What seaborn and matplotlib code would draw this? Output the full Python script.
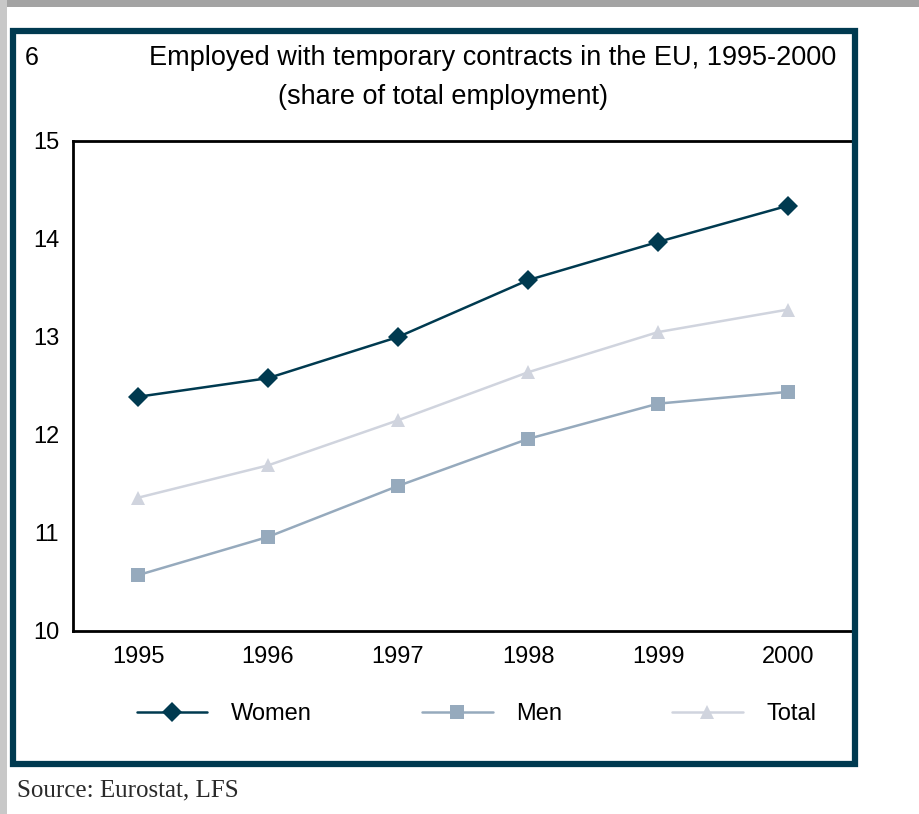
import numpy as np
import pandas as pd
import matplotlib
matplotlib.use("Agg")
import matplotlib.pyplot as plt
from matplotlib.patches import Rectangle
from matplotlib.ticker import FixedLocator, NullFormatter
import seaborn as sns

years = [1995, 1996, 1997, 1998, 1999, 2000]
women = [12.39, 12.58, 13.00, 13.58, 13.97, 14.34]
men = [10.57, 10.96, 11.48, 11.96, 12.32, 12.44]
total = [11.36, 11.69, 12.15, 12.64, 13.05, 13.28]
series_names = ["Women", "Men", "Total"]
y_ticks = [10, 11, 12, 13, 14, 15]

title_num = "6"
title_main = "Employed with temporary contracts in the EU, 1995-2000"
title_sub = "(share of total employment)"
source_text = "Source: Eurostat, LFS"

df = pd.DataFrame({
    "year": years * 3,
    "value": women + men + total,
    "series": [series_names[0]] * 6 + [series_names[1]] * 6 + [series_names[2]] * 6,
})

sns.set_theme(style="white")
plt.rcParams["font.family"] = ["Liberation Sans Narrow", "Liberation Sans", "DejaVu Sans"]

fig = plt.figure(figsize=(9.2, 8.14), dpi=100)
fig.patch.set_facecolor("white")

# background decorations (gray window strips)
fig.add_artist(Rectangle((0, 1 - 7 / 814), 1, 7 / 814, transform=fig.transFigure,
                         facecolor="#a3a3a3", edgecolor="none", zorder=0))
fig.add_artist(Rectangle((0, 0), 7 / 920, 1, transform=fig.transFigure,
                         facecolor="#c8c8c8", edgecolor="none", zorder=0))
# outer teal frame
fig.add_artist(Rectangle((13 / 920, 1 - 764 / 814), (855 - 13) / 920, (764 - 31) / 814,
                         transform=fig.transFigure, facecolor="none",
                         edgecolor="#003a50", lw=4.5, zorder=1))

ax = fig.add_axes([73 / 920, 1 - 631 / 814, (853 - 73) / 920, (631 - 141) / 814])

palette = {"Women": "#003a50", "Men": "#96aabd", "Total": "#d0d4de"}
markers = {"Women": "D", "Men": "s", "Total": "^"}
sns.lineplot(data=df, x="year", y="value", hue="series", style="series",
             palette=palette, markers=markers, dashes=False, lw=1.8,
             markersize=10.5, markeredgewidth=0, ax=ax)

ax.set_xlim(years[0] - 0.5, years[-1] + 0.5)
ax.set_ylim(y_ticks[0], y_ticks[-1])
ax.set_yticks(y_ticks)
ax.set_yticklabels([str(t) for t in y_ticks])
ax.xaxis.set_major_locator(FixedLocator([y - 0.5 for y in years] + [years[-1] + 0.5]))
ax.xaxis.set_major_formatter(NullFormatter())
ax.xaxis.set_minor_locator(FixedLocator(years))
ax.set_xticklabels([str(y) for y in years], minor=True)
ax.tick_params(axis="x", which="major", direction="out", length=6, width=2, color="black")
ax.tick_params(axis="x", which="minor", length=0, pad=11, labelsize=17, labelcolor="black")
ax.tick_params(axis="y", direction="out", length=6, width=2, color="black",
               labelsize=17, labelcolor="black", pad=4)
for sp in ax.spines.values():
    sp.set_visible(True)
    sp.set_color("black")
    sp.set_linewidth(2)
ax.set_xlabel("")
ax.set_ylabel("")
ax.grid(False)

sns.move_legend(ax, "center", bbox_to_anchor=(0.518, 1 - 714 / 814),
                bbox_transform=fig.transFigure, ncol=3, frameon=False, title=None,
                fontsize=17, handlelength=3.0, handletextpad=1.0, columnspacing=4.65,
                labelcolor="black")

fig.text(25 / 920, 1 - 58 / 814, title_num, fontsize=18, ha="left", va="center", color="black")
fig.text(493 / 920, 1 - 58 / 814, title_main, fontsize=19.5, ha="center", va="center", color="black")
fig.text(443 / 920, 1 - 97 / 814, title_sub, fontsize=19.5, ha="center", va="center", color="black")
fig.text(17 / 920, 1 - 790 / 814, source_text, fontsize=18, ha="left", va="center",
         color="#2a2a2a", family=["Liberation Serif", "DejaVu Serif"])

fig.savefig("out.png", dpi=100)
